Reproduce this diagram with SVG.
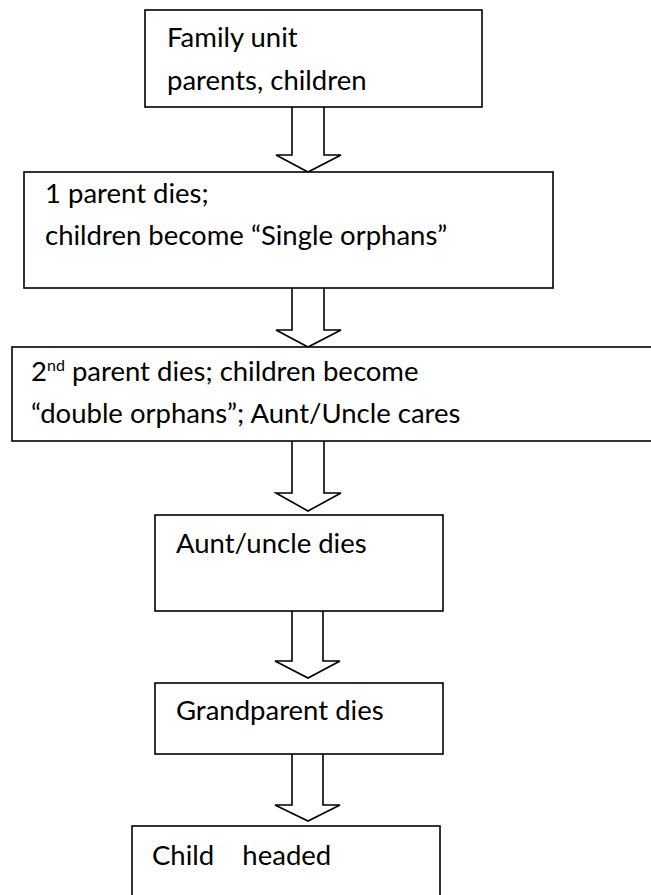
<svg xmlns="http://www.w3.org/2000/svg" width="651" height="895" viewBox="0 0 651 895">
  <style>
    .box { fill: #ffffff; stroke: #000000; stroke-width: 1.6; }
    .arrow { fill: #ffffff; stroke: #000000; stroke-width: 1.6; stroke-linejoin: miter; }
    text { font-family: Lato, "Liberation Sans", sans-serif; font-size: 27.5px; fill: #000000; }
    .sup { font-size: 16px; }
  </style>
  <rect width="651" height="895" fill="#ffffff"/>

  <!-- block arrows between the stages -->
  <g id="connectors">
    <polygon class="arrow" points="292,104 324,104 324,155 341,155 308,172 276,155 292,155"/>
    <polygon class="arrow" points="292,284 324,284 324,330 341,330 308,347 276,330 292,330"/>
    <polygon class="arrow" points="292,438 324,438 324,493 341,493 308,511 276,493 292,493"/>
    <polygon class="arrow" points="292,609 323,609 323,661 340,661 308,678 275,661 292,661"/>
    <polygon class="arrow" points="292,752 323,752 323,805 340,805 308,821 275,805 292,805"/>
  </g>

  <g id="family-unit">
    <rect class="box" x="145" y="10" width="337" height="97"/>
    <text x="167" y="47">Family unit</text>
    <text x="167" y="90">parents, children</text>
  </g>

  <g id="single-orphans">
    <rect class="box" x="24" y="172" width="529" height="116"/>
    <text x="45" y="203">1 parent dies;</text>
    <text x="45" y="245">children become “Single orphans”</text>
  </g>

  <g id="double-orphans">
    <rect class="box" x="12" y="347" width="660" height="94"/>
    <text x="31" y="381">2<tspan class="sup" dy="-10">nd</tspan><tspan dy="10"> parent dies; children become</tspan></text>
    <text x="31" y="423">“double orphans”; Aunt/Uncle cares</text>
  </g>

  <g id="aunt-uncle-dies">
    <rect class="box" x="155" y="515" width="288" height="96"/>
    <text x="176" y="553">Aunt/uncle dies</text>
  </g>

  <g id="grandparent-dies">
    <rect class="box" x="155" y="683" width="288" height="71"/>
    <text x="176" y="720">Grandparent dies</text>
  </g>

  <g id="child-headed">
    <rect class="box" x="132" y="826" width="308" height="90"/>
    <text x="152" y="865" xml:space="preserve">Child    headed</text>
  </g>
</svg>
